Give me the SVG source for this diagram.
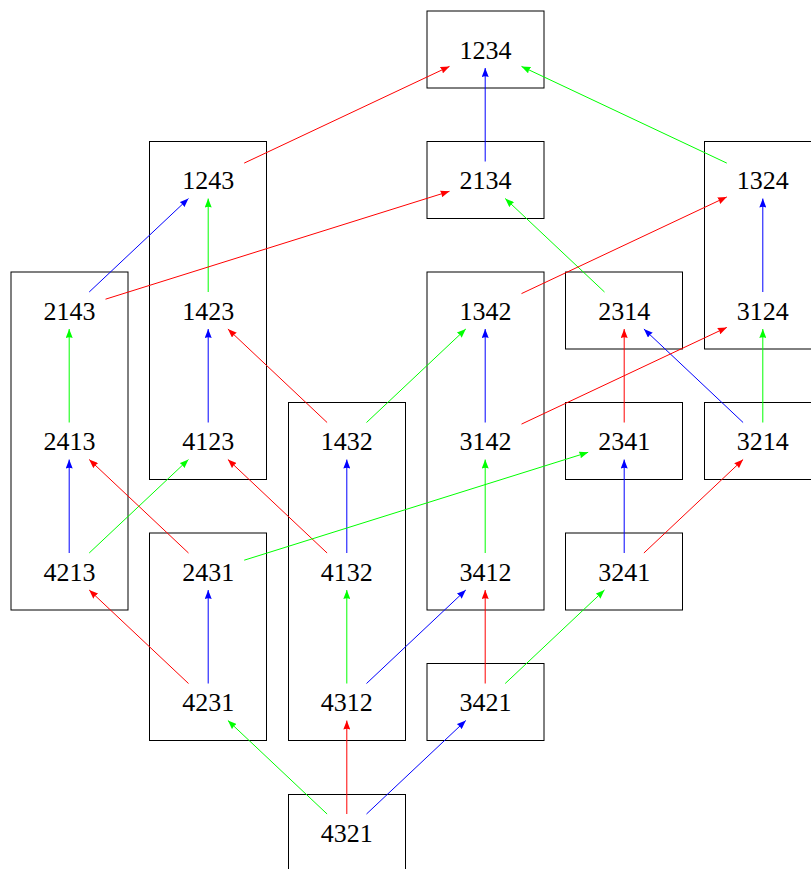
<svg xmlns="http://www.w3.org/2000/svg" width="811" height="869" viewBox="0 0 811 869">
<style>
.box{fill:none;stroke:#000;stroke-width:1}
.lbl{font-family:"Liberation Serif","Times New Roman",serif;font-size:26px;text-anchor:middle;fill:#000}
.e{fill:none;stroke-width:1}
.r{stroke:#ff0000;marker-end:url(#ar)}
.b{stroke:#0000ff;marker-end:url(#ab)}
.g{stroke:#00ff00;marker-end:url(#ag)}
</style>
<defs>
<marker id="ar" markerUnits="userSpaceOnUse" markerWidth="9" markerHeight="7" viewBox="0 0 9 7" refX="9" refY="3.5" orient="auto"><path d="M0,0 L9,3.5 L0,7 Q1.5,3.5 0,0 z" fill="#ff0000"/></marker>
<marker id="ab" markerUnits="userSpaceOnUse" markerWidth="9" markerHeight="7" viewBox="0 0 9 7" refX="9" refY="3.5" orient="auto"><path d="M0,0 L9,3.5 L0,7 Q1.5,3.5 0,0 z" fill="#0000ff"/></marker>
<marker id="ag" markerUnits="userSpaceOnUse" markerWidth="9" markerHeight="7" viewBox="0 0 9 7" refX="9" refY="3.5" orient="auto"><path d="M0,0 L9,3.5 L0,7 Q1.5,3.5 0,0 z" fill="#00ff00"/></marker>
</defs>
<g id="boxes">
<rect id="box-1234" class="box" x="427" y="11" width="117" height="77"/>
<rect id="box-2134" class="box" x="427" y="141.5" width="117" height="77"/>
<rect id="box-1243" class="box" x="149.5" y="141.5" width="117" height="338"/>
<rect id="box-1324" class="box" x="704.5" y="141.5" width="117" height="207.5"/>
<rect id="box-2143" class="box" x="11" y="272" width="117" height="338"/>
<rect id="box-1342" class="box" x="427" y="272" width="117" height="338"/>
<rect id="box-2314" class="box" x="565.5" y="272" width="117" height="77"/>
<rect id="box-1432" class="box" x="288.5" y="402.5" width="117" height="338"/>
<rect id="box-2341" class="box" x="565.5" y="402.5" width="117" height="77"/>
<rect id="box-3214" class="box" x="704.5" y="402.5" width="117" height="77"/>
<rect id="box-2431" class="box" x="149.5" y="533" width="117" height="207.5"/>
<rect id="box-3241" class="box" x="565.5" y="533" width="117" height="77"/>
<rect id="box-3421" class="box" x="427" y="663.5" width="117" height="77"/>
<rect id="box-4321" class="box" x="288.5" y="794.5" width="117" height="80"/>
</g>
<g id="connectors">
<line class="e r" x1="244.2" y1="163.1" x2="449.5" y2="66.4"/>
<line class="e b" x1="485.2" y1="161.5" x2="485.2" y2="68"/>
<line class="e g" x1="726.8" y1="163.1" x2="521.5" y2="66.4"/>
<line class="e b" x1="89.2" y1="292" x2="188.5" y2="198.5"/>
<line class="e g" x1="208.2" y1="292" x2="208.2" y2="198.5"/>
<line class="e r" x1="105.5" y1="299.2" x2="449.5" y2="191.3"/>
<line class="e g" x1="604.5" y1="292" x2="505.2" y2="198.5"/>
<line class="e r" x1="521.5" y1="293.6" x2="726.8" y2="196.9"/>
<line class="e b" x1="762.8" y1="292" x2="762.8" y2="198.5"/>
<line class="e g" x1="69.2" y1="422.5" x2="69.2" y2="329"/>
<line class="e b" x1="208.2" y1="422.5" x2="208.2" y2="329"/>
<line class="e r" x1="327.1" y1="422.5" x2="227.9" y2="329"/>
<line class="e g" x1="366.5" y1="422.5" x2="465.8" y2="329"/>
<line class="e b" x1="485.2" y1="422.5" x2="485.2" y2="329"/>
<line class="e r" x1="624.2" y1="422.5" x2="624.2" y2="329"/>
<line class="e b" x1="743.1" y1="422.5" x2="643.9" y2="329"/>
<line class="e r" x1="521.5" y1="424.1" x2="726.8" y2="327.4"/>
<line class="e g" x1="762.8" y1="422.5" x2="762.8" y2="329"/>
<line class="e b" x1="69.2" y1="553" x2="69.2" y2="459.5"/>
<line class="e g" x1="89.2" y1="553" x2="188.5" y2="459.5"/>
<line class="e r" x1="188.5" y1="553" x2="89.2" y2="459.5"/>
<line class="e r" x1="327.1" y1="553" x2="227.9" y2="459.5"/>
<line class="e b" x1="346.8" y1="553" x2="346.8" y2="459.5"/>
<line class="e g" x1="244.2" y1="560.2" x2="588.2" y2="452.3"/>
<line class="e g" x1="485.2" y1="553" x2="485.2" y2="459.5"/>
<line class="e b" x1="624.2" y1="553" x2="624.2" y2="459.5"/>
<line class="e r" x1="643.9" y1="553" x2="743.1" y2="459.5"/>
<line class="e r" x1="188.5" y1="683.5" x2="89.2" y2="590"/>
<line class="e b" x1="208.2" y1="683.5" x2="208.2" y2="590"/>
<line class="e g" x1="346.8" y1="683.5" x2="346.8" y2="590"/>
<line class="e b" x1="366.5" y1="683.5" x2="465.8" y2="590"/>
<line class="e r" x1="485.2" y1="683.5" x2="485.2" y2="590"/>
<line class="e g" x1="505.2" y1="683.5" x2="604.5" y2="590"/>
<line class="e g" x1="327.1" y1="814" x2="227.9" y2="720.5"/>
<line class="e r" x1="346.8" y1="814" x2="346.8" y2="720.5"/>
<line class="e b" x1="366.5" y1="814" x2="465.8" y2="720.5"/>
</g>
<g id="n1234"><text class="lbl" x="485.5" y="58.5">1234</text></g>
<g id="n1243"><text class="lbl" x="208.2" y="189">1243</text></g>
<g id="n2134"><text class="lbl" x="485.5" y="189">2134</text></g>
<g id="n1324"><text class="lbl" x="762.8" y="189">1324</text></g>
<g id="n2143"><text class="lbl" x="69.5" y="319.5">2143</text></g>
<g id="n1423"><text class="lbl" x="208.2" y="319.5">1423</text></g>
<g id="n1342"><text class="lbl" x="485.5" y="319.5">1342</text></g>
<g id="n2314"><text class="lbl" x="624.2" y="319.5">2314</text></g>
<g id="n3124"><text class="lbl" x="762.8" y="319.5">3124</text></g>
<g id="n2413"><text class="lbl" x="69.5" y="450">2413</text></g>
<g id="n4123"><text class="lbl" x="208.2" y="450">4123</text></g>
<g id="n1432"><text class="lbl" x="346.8" y="450">1432</text></g>
<g id="n3142"><text class="lbl" x="485.5" y="450">3142</text></g>
<g id="n2341"><text class="lbl" x="624.2" y="450">2341</text></g>
<g id="n3214"><text class="lbl" x="762.8" y="450">3214</text></g>
<g id="n4213"><text class="lbl" x="69.5" y="580.5">4213</text></g>
<g id="n2431"><text class="lbl" x="208.2" y="580.5">2431</text></g>
<g id="n4132"><text class="lbl" x="346.8" y="580.5">4132</text></g>
<g id="n3412"><text class="lbl" x="485.5" y="580.5">3412</text></g>
<g id="n3241"><text class="lbl" x="624.2" y="580.5">3241</text></g>
<g id="n4231"><text class="lbl" x="208.2" y="711">4231</text></g>
<g id="n4312"><text class="lbl" x="346.8" y="711">4312</text></g>
<g id="n3421"><text class="lbl" x="485.5" y="711">3421</text></g>
<g id="n4321"><text class="lbl" x="346.8" y="841.5">4321</text></g>
</svg>
